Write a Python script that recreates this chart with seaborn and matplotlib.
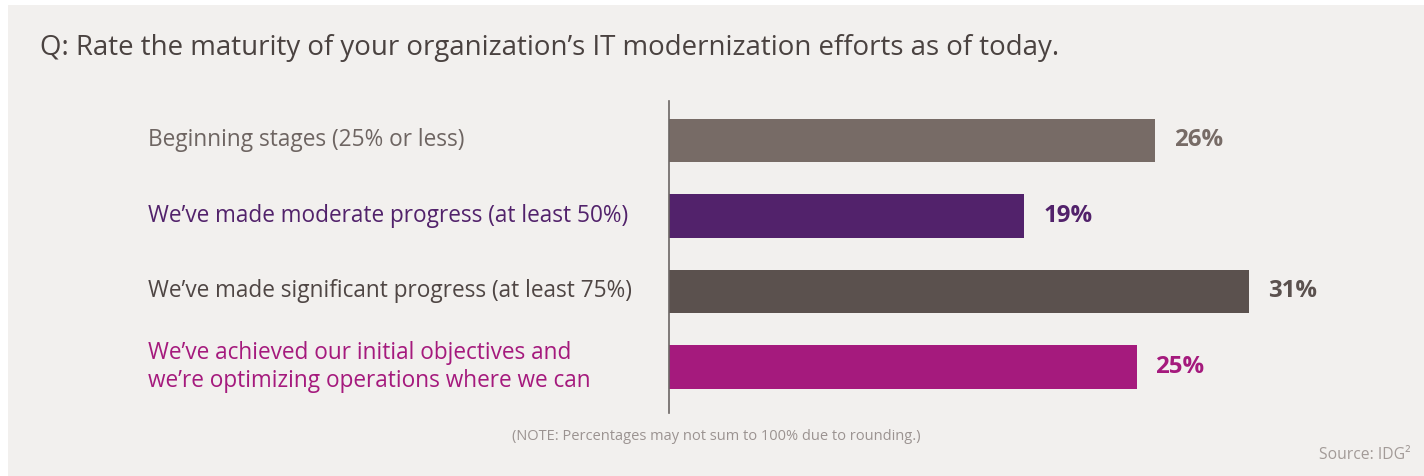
import matplotlib
matplotlib.use("Agg")
import matplotlib.pyplot as plt
import matplotlib.transforms as mtransforms
from matplotlib.patches import Rectangle
import seaborn as sns
import pandas as pd

categories = [
    "Beginning stages (25% or less)",
    "We\u2019ve made moderate progress (at least 50%)",
    "We\u2019ve made significant progress (at least 75%)",
    "We\u2019ve achieved our initial objectives and\nwe\u2019re optimizing operations where we can",
]
values = [26, 19, 31, 25]
value_labels = ["26%", "19%", "31%", "25%"]
bar_colors = ["#776b66", "#52226b", "#5b514e", "#a51a7d"]
label_colors = ["#6e6562", "#52226b", "#4f4644", "#a51a7d"]
title = "Q: Rate the maturity of your organization\u2019s IT modernization efforts as of today."
note = "(NOTE: Percentages may not sum to 100% due to rounding.)"
source = "Source: IDG\u00b2"

sns.set_theme(style="white")
plt.rcParams["font.family"] = ["Open Sans", "DejaVu Sans"]

W, H = 1424, 476
fig = plt.figure(figsize=(W / 100, H / 100), dpi=100, facecolor="white")
fig.patches.append(Rectangle((8 / W, 0), 1 - 8 / W, 1 - 5 / H, transform=fig.transFigure,
                             facecolor="#f2f0ee", edgecolor="none", zorder=-10))

ax = fig.add_axes([669 / W, 1 - 413 / H, 1 - 669 / W, (413 - 101) / H])
ax.set_facecolor("none")

df = pd.DataFrame({"cat": categories, "val": values})
sns.barplot(data=df, y="cat", x="val", hue="cat", palette=bar_colors, orient="h",
            width=0.576, legend=False, ax=ax, saturation=1, linewidth=0)

px_per_unit = 18.7
ax.set_xlim(0, (W - 669) / px_per_unit)
ax.set_ylim(3.61, -0.52)
for s in ["top", "right", "bottom"]:
    ax.spines[s].set_visible(False)
ax.spines["left"].set_color("#6b6563")
ax.spines["left"].set_linewidth(1.2)
ax.set_xticks([])
ax.set_yticks([])
ax.set_xlabel("")
ax.set_ylabel("")

trans = mtransforms.blended_transform_factory(fig.transFigure, ax.transData)
for i, (cat, col) in enumerate(zip(categories, label_colors)):
    fig.text(148 / W, i, cat, transform=trans, ha="left", va="center",
             fontsize=16.3, color=col, linespacing=1.2)

for i, (v, lab, col) in enumerate(zip(values, value_labels, bar_colors)):
    ax.text(v + 19 / px_per_unit, i, lab, ha="left", va="center",
            fontsize=17.3, fontweight="bold", color=col)

fig.text(40 / W, 1 - 48 / H, title, ha="left", va="center", fontsize=19.9, color="#4a4240")
fig.text(716 / W, 1 - 436 / H, note, ha="center", va="center", fontsize=10.5, color="#9b9391")
fig.text(1411 / W, 1 - 455 / H, source, ha="right", va="center", fontsize=11.3, color="#a39b98")

fig.savefig("out.png", dpi=100, facecolor="white")
